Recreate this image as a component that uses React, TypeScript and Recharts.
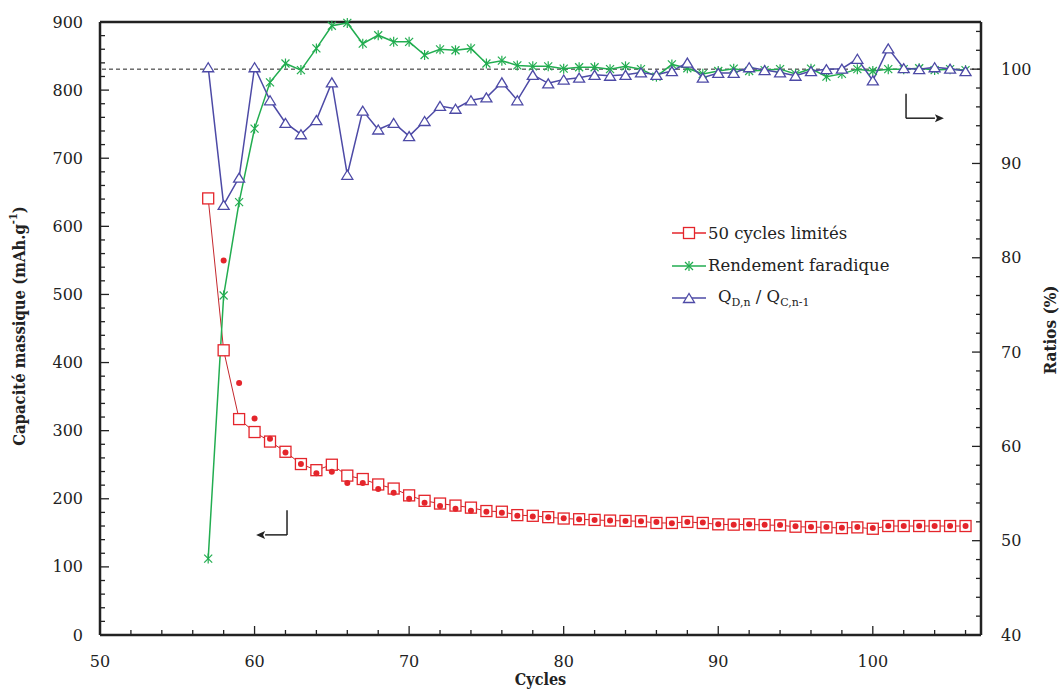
import { LineChart, Line, XAxis, YAxis, ReferenceLine, Legend } from "recharts"

const cycles = [
  57, 58, 59, 60, 61, 62, 63, 64, 65, 66, 67, 68, 69, 70, 71, 72, 73, 74, 75, 76, 77, 78, 79, 80, 81,
  82, 83, 84, 85, 86, 87, 88, 89, 90, 91, 92, 93, 94, 95, 96, 97, 98, 99, 100, 101, 102, 103, 104, 105, 106,
]

// capacité massique, carrés (mAh/g)
const capacity = [
  641, 418, 317, 298, 284, 269, 251, 242, 250, 234, 229, 221, 215, 205, 197, 193, 190, 187, 182, 181, 176,
  175, 173, 171, 170, 169, 168, 167.5, 167, 164.5, 164.5, 166, 164.5, 162.5, 162, 162.5, 161.5, 161, 159,
  158.5, 158, 157, 158, 156, 160, 160, 160, 160, 160, 160,
]

// points pleins rouges (sans ligne)
const capacityDots = [
  null, 550, 370, 318, 288, 268, 251, 237.5, 239.5, 223, 223, 214.5, 209, 200, 194, 189.5, 185.5, 182.5, 181,
  179.5, 175, 174, 173, 171.5, 170, 169, 168, 167.5, 167, 166, 164, 166, 165, 162.5, 162, 162.5, 162, 161.5,
  159.5, 158.5, 158.5, 157.5, 158.5, 157, 160, 160, 160, 160, 160, 160,
]

// rendement faradique (%)
const faradicYield = [
  48.1, 76.0, 85.9, 93.7, 98.6, 100.6, 99.9, 102.2, 104.6, 104.9, 102.7, 103.6, 102.9, 102.9, 101.5, 102.1,
  102.0, 102.2, 100.6, 100.9, 100.4, 100.3, 100.3, 100.05, 100.2, 100.2, 100.0, 100.3, 100.0, 99.2, 100.5,
  100.1, 99.5, 99.8, 100.05, 99.8, 99.9, 100.0, 99.5, 100.05, 99.2, 99.5, 100.0, 99.8, 100.0, 100.0, 100.1,
  99.9, 100.0, 99.9,
]

// Q D,n / Q C,n-1 (%)
const chargeRatio = [
  100.2, 85.6, 88.5, 100.2, 96.7, 94.3, 93.1, 94.6, 98.6, 88.8, 95.6, 93.6, 94.3, 92.9, 94.5, 96.1, 95.8,
  96.7, 97.0, 98.6, 96.7, 99.4, 98.5, 98.9, 99.1, 99.4, 99.3, 99.4, 99.65, 99.4, 99.8, 100.7, 99.1, 99.6,
  99.6, 100.2, 99.9, 99.65, 99.3, 99.8, 100.0, 100.05, 101.1, 98.8, 102.2, 100.1, 100.0, 100.2, 100.05, 99.8,
]

const xTicks = [
  50, 52, 54, 56, 58, 60, 62, 64, 66, 68, 70, 72, 74, 76, 78, 80, 82, 84, 86, 88, 90, 92, 94, 96, 98, 100,
  102, 104, 106,
]
const leftTicks = [
  0, 20, 40, 60, 80, 100, 120, 140, 160, 180, 200, 220, 240, 260, 280, 300, 320, 340, 360, 380, 400, 420,
  440, 460, 480, 500, 520, 540, 560, 580, 600, 620, 640, 660, 680, 700, 720, 740, 760, 780, 800, 820, 840,
  860, 880, 900,
]
const rightTicks = [
  40, 42, 44, 46, 48, 50, 52, 54, 56, 58, 60, 62, 64, 66, 68, 70, 72, 74, 76, 78, 80, 82, 84, 86, 88, 90, 92,
  94, 96, 98, 100, 102, 104,
]

// flèches d'annotation (en coordonnées des axes)
const leftArrow = [
  { x: 62.1, y: 183 },
  { x: 62.1, y: 147 },
  { x: 60.1, y: 147 },
]
const rightArrow = [
  { x: 102.15, y: 97.4 },
  { x: 102.15, y: 94.8 },
  { x: 104.6, y: 94.8 },
]

const data = cycles.map((c, i) => ({
  cycle: c,
  capacity: capacity[i],
  dots: capacityDots[i],
  yield: faradicYield[i],
  ratio: chargeRatio[i],
}))

const RED = "#e4252b"
const RED_LINE = "#c4272d"
const GREEN = "#22ad50"
const BLUE = "#4d4aa6"
const AXIS = "#222"
const FONT = "'DejaVu Serif', serif"
const TITLE_FONT = "'DejaVu Serif Condensed', 'DejaVu Serif', serif"

function SquareDot(props: any) {
  const { cx, cy, index } = props
  if (cx == null || cy == null) return <g key={index} />
  return <rect key={index} x={cx - 5.5} y={cy - 5.5} width={11} height={11} fill="#fff" stroke={RED} strokeWidth={1.3} />
}

function FilledDot(props: any) {
  const { cx, cy, index, value } = props
  if (cx == null || cy == null || value == null) return <g key={index} />
  return <circle key={index} cx={cx} cy={cy} r={3} fill={RED} />
}

function StarDot(props: any) {
  const { cx, cy, index } = props
  if (cx == null || cy == null) return <g key={index} />
  const r = 4
  return (
    <g key={index} stroke={GREEN} strokeWidth={1.2}>
      <line x1={cx - r} y1={cy - r} x2={cx + r} y2={cy + r} />
      <line x1={cx - r} y1={cy + r} x2={cx + r} y2={cy - r} />
      <line x1={cx} y1={cy - r - 1} x2={cx} y2={cy + r + 1} />
    </g>
  )
}

function TriangleDot(props: any) {
  const { cx, cy, index } = props
  if (cx == null || cy == null) return <g key={index} />
  return (
    <polygon
      key={index}
      points={`${cx},${cy - 4.5} ${cx - 5.5},${cy + 4.5} ${cx + 5.5},${cy + 4.5}`}
      fill="#fff"
      stroke={BLUE}
      strokeWidth={1.3}
    />
  )
}

function XTick(props: any) {
  const { x, y, payload } = props
  const major = payload.value % 10 === 0
  return (
    <g>
      <line x1={x} y1={y} x2={x} y2={y - (major ? 9 : 5)} stroke={AXIS} strokeWidth={1.3} />
      {major && (
        <text x={x} y={y + 26} textAnchor="middle" dominantBaseline="central" fontFamily={FONT} fontSize={16} fill={AXIS}>
          {payload.value}
        </text>
      )}
    </g>
  )
}

function LeftTick(props: any) {
  const { x, y, payload } = props
  const major = payload.value % 100 === 0
  return (
    <g>
      <line x1={x} y1={y} x2={x + (major ? 9 : 5)} y2={y} stroke={AXIS} strokeWidth={1.3} />
      {major && (
        <text x={x - 17} y={y} textAnchor="end" dominantBaseline="central" fontFamily={FONT} fontSize={16} fill={AXIS}>
          {payload.value}
        </text>
      )}
    </g>
  )
}

function RightTick(props: any) {
  const { x, y, payload } = props
  const major = payload.value % 10 === 0
  return (
    <g>
      <line x1={x} y1={y} x2={x - (major ? 9 : 5)} y2={y} stroke={AXIS} strokeWidth={1.3} />
      {major && (
        <text x={x + 20} y={y} textAnchor="start" dominantBaseline="central" fontFamily={FONT} fontSize={16} fill={AXIS}>
          {payload.value}
        </text>
      )}
    </g>
  )
}

function ArrowShape(props: any) {
  const { x1, y1, x2, y2 } = props
  const dx = x2 - x1
  const dy = y2 - y1
  const len = Math.sqrt(dx * dx + dy * dy) || 1
  const ux = dx / len
  const uy = dy / len
  const hx = x2 - ux * 9
  const hy = y2 - uy * 9
  return (
    <g>
      <line x1={x1} y1={y1} x2={hx} y2={hy} stroke={AXIS} strokeWidth={1.5} />
      <polygon
        points={`${x2},${y2} ${hx - uy * 4},${hy + ux * 4} ${hx + ux * 2},${hy + uy * 2} ${hx + uy * 4},${hy - ux * 4}`}
        fill={AXIS}
      />
    </g>
  )
}

function LegendIcon({ kind, color }: { kind: string; color: string }) {
  return (
    <svg width={34} height={16} style={{ marginRight: 2 }}>
      <line x1={0} y1={8} x2={34} y2={8} stroke={color} strokeWidth={1.4} />
      {kind === "square" && <rect x={11.5} y={2.5} width={11} height={11} fill="#fff" stroke={color} strokeWidth={1.3} />}
      {kind === "star" && (
        <g stroke={color} strokeWidth={1.2}>
          <line x1={13} y1={4} x2={21} y2={12} />
          <line x1={13} y1={12} x2={21} y2={4} />
          <line x1={17} y1={3} x2={17} y2={13} />
        </g>
      )}
      {kind === "triangle" && <polygon points="17,3.5 11.5,12.5 22.5,12.5" fill="#fff" stroke={color} strokeWidth={1.3} />}
    </svg>
  )
}

function LegendContent() {
  const row = { display: "flex", alignItems: "center", height: 32.5 } as const
  return (
    <div style={{ fontFamily: FONT, fontSize: 16.5, color: AXIS }}>
      <div style={row}>
        <LegendIcon kind="square" color={RED} />
        <span>50 cycles limités</span>
      </div>
      <div style={row}>
        <LegendIcon kind="star" color={GREEN} />
        <span>Rendement faradique</span>
      </div>
      <div style={row}>
        <LegendIcon kind="triangle" color={BLUE} />
        <span style={{ marginLeft: 10 }}>
          Q<sub style={{ fontSize: 11 }}>D,n</sub> / Q<sub style={{ fontSize: 11 }}>C,n-1</sub>
        </span>
      </div>
    </div>
  )
}

export default function App() {
  return (
    <div style={{ position: "absolute", left: 0, top: 0, width: 1062, height: 690, background: "#fff" }}>
      <LineChart width={1062} height={690} data={data} margin={{ top: 22, right: 0, bottom: 0, left: 0 }}>
        <XAxis
          dataKey="cycle"
          type="number"
          domain={[50, 107]}
          ticks={xTicks}
          interval={0}
          height={55}
          tickSize={0}
          tickMargin={0}
          tickLine={false}
          axisLine={{ stroke: AXIS, strokeWidth: 2.5 }}
          tick={(p: any) => <XTick {...p} />}
          label={{
            content: (p: any) => (
              <text
                x={p.viewBox.x + p.viewBox.width / 2}
                y={p.viewBox.y + 44}
                textAnchor="middle"
                dominantBaseline="central"
                fontFamily={TITLE_FONT}
                fontWeight="bold"
                fontSize={16}
                fill={AXIS}
              >
                Cycles
              </text>
            ),
          }}
        />
        <YAxis
          yAxisId="left"
          width={100}
          domain={[0, 900]}
          ticks={leftTicks}
          interval={0}
          tickSize={0}
          tickMargin={0}
          tickLine={false}
          axisLine={{ stroke: AXIS, strokeWidth: 2.5 }}
          tick={(p: any) => <LeftTick {...p} />}
          label={{
            content: () => (
              <text
                x={19}
                y={326}
                transform="rotate(-90 19 326)"
                textAnchor="middle"
                dominantBaseline="central"
                fontFamily={TITLE_FONT}
                fontWeight="bold"
                fontSize={16.5}
                fill={AXIS}
              >
                Capacité massique (mAh.g
                <tspan dy={-6} fontSize={11}>-1</tspan>
                <tspan dy={6}>)</tspan>
              </text>
            ),
          }}
        />
        <YAxis
          yAxisId="right"
          orientation="right"
          width={81}
          domain={[40, 105]}
          ticks={rightTicks}
          interval={0}
          tickSize={0}
          tickMargin={0}
          tickLine={false}
          axisLine={{ stroke: AXIS, strokeWidth: 2.5 }}
          tick={(p: any) => <RightTick {...p} />}
          label={{
            content: () => (
              <text
                x={1050}
                y={330}
                transform="rotate(-90 1050 330)"
                textAnchor="middle"
                dominantBaseline="central"
                fontFamily={TITLE_FONT}
                fontWeight="bold"
                fontSize={17}
                fill={AXIS}
              >
                Ratios (%)
              </text>
            ),
          }}
        />
        <ReferenceLine yAxisId="left" y={900} stroke={AXIS} strokeWidth={2.5} />
        <ReferenceLine yAxisId="right" y={100} stroke={AXIS} strokeWidth={1} strokeDasharray="4 3" />
        <ReferenceLine yAxisId="left" segment={[leftArrow[0], leftArrow[1]]} stroke={AXIS} strokeWidth={1.5} />
        <ReferenceLine yAxisId="left" segment={[leftArrow[1], leftArrow[2]]} shape={(p: any) => <ArrowShape {...p} />} />
        <ReferenceLine yAxisId="right" segment={[rightArrow[0], rightArrow[1]]} stroke={AXIS} strokeWidth={1.5} />
        <ReferenceLine yAxisId="right" segment={[rightArrow[1], rightArrow[2]]} shape={(p: any) => <ArrowShape {...p} />} />
        <Line
          yAxisId="left"
          dataKey="capacity"
          stroke={RED_LINE}
          strokeWidth={1}
          dot={(p: any) => <SquareDot {...p} />}
          isAnimationActive={false}
        />
        <Line
          yAxisId="left"
          dataKey="dots"
          stroke="none"
          dot={(p: any) => <FilledDot {...p} />}
          isAnimationActive={false}
        />
        <Line
          yAxisId="right"
          dataKey="yield"
          stroke={GREEN}
          strokeWidth={1.5}
          dot={(p: any) => <StarDot {...p} />}
          isAnimationActive={false}
        />
        <Line
          yAxisId="right"
          dataKey="ratio"
          stroke={BLUE}
          strokeWidth={1.5}
          dot={(p: any) => <TriangleDot {...p} />}
          isAnimationActive={false}
        />
        <Legend
          layout="vertical"
          align="center"
          verticalAlign="middle"
          content={() => <LegendContent />}
          wrapperStyle={{ left: 672, top: 217, width: 260 }}
        />
      </LineChart>
    </div>
  )
}
